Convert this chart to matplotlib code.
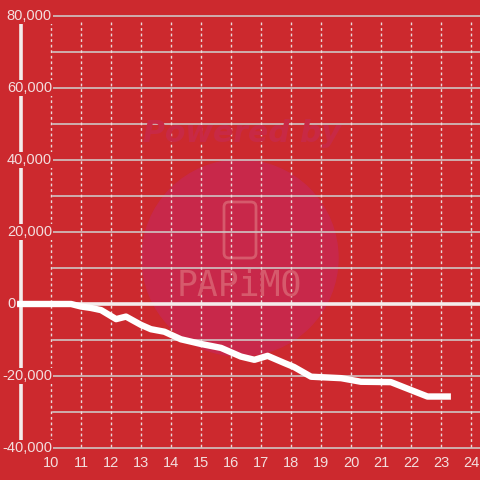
import matplotlib.pyplot as plt
from matplotlib.patches import Circle, FancyBboxPatch

# data
hours = [8.87, 10.67, 11.0, 11.33, 11.67, 12.17, 12.5, 13.0, 13.33, 13.78, 14.33,
         15.0, 15.67, 16.33, 16.78, 17.22, 17.78, 18.1, 18.67, 19.67, 20.33,
         21.33, 22.0, 22.55, 23.33]
balance = [0, 0, -700, -1100, -1700, -4200, -3500, -5800, -7000, -7700, -9800,
           -11100, -12200, -14600, -15500, -14400, -16400, -17500, -20200, -20600,
           -21600, -21700, -23900, -25700, -25700]
x_ticks = list(range(10, 25))
y_ticks = [80000, 60000, 40000, 20000, 0, -20000, -40000]
y_grid = list(range(-40000, 80001, 10000))

bg = '#cc292e'
txt = '#f3dede'

plt.rcParams['font.family'] = ['Liberation Sans', 'DejaVu Sans']
fig = plt.figure(figsize=(4.8, 4.8), dpi=100, facecolor=bg)
ax = fig.add_axes([0, 0, 1, 1])
ax.set_facecolor(bg)
ax.axis('off')

# pixel mapping: x px = 51 + 30*(x-10); y px = 304 - y*72/20000
px_x = lambda p: 10 + (p - 51) / 30
px_y = lambda p: (304 - p) * 20000 / 72
ax.set_xlim(px_x(0), px_x(480))
ax.set_ylim(px_y(480), px_y(0))

# watermark
ax.add_patch(Circle((240, 480 - 258), 98, transform=None, color='#c8284a', zorder=0))
fig.text(242 / 480, 1 - 134 / 480, 'Powered by', color='#c82945', fontsize=21.5,
         fontweight='bold', fontstyle='italic', ha='center', va='center', zorder=1,
         family='DejaVu Sans')
fig.text(239 / 480, 1 - 286 / 480, 'PAPiMO', color='#d65a6c', fontsize=25,
         ha='center', va='center', zorder=1, family='DejaVu Sans Mono')
ax.add_patch(FancyBboxPatch((226, 480 - 256), 28, 52, boxstyle='round,pad=2,rounding_size=5',
                            transform=None, fill=False, ec='#d65a6c', lw=2, zorder=1))

# grid
for v in y_grid:
    if v == 0:
        continue
    ax.plot([px_x(53), px_x(480)], [v, v], color='#cfc4c4', lw=1.2, zorder=2)
for t in x_ticks:
    ax.plot([t, t], [px_y(22), px_y(448)], color='#eadada', lw=1, ls=(0, (2, 2)), zorder=2)

# zero line and y axis line
ax.plot([px_x(17), px_x(480)], [0, 0], color='#f4ecec', lw=2.6, zorder=3,
        solid_capstyle='butt')
ax.plot([px_x(21), px_x(21)], [px_y(24), px_y(440)], color='#f4ecec', lw=2.6, zorder=3)

# tick labels
for v in y_ticks:
    if v == 0:
        ax.text(px_x(15.5), v, '0', color=txt, fontsize=10.5, ha='right', va='center', zorder=6)
        continue
    ax.text(px_x(52), v, f'{v:,}', color=txt, fontsize=10.5, ha='right', va='center',
            zorder=4, bbox=dict(boxstyle='square,pad=0.05', fc=bg, ec='none'))
for t in x_ticks:
    ax.text(t, px_y(463), str(t), color=txt, fontsize=10.5, ha='center', va='center', zorder=4)

# balance line
ax.plot(hours, balance, color='white', lw=4.6, solid_joinstyle='round',
        solid_capstyle='butt', zorder=5)

fig.savefig('out.png', dpi=100, facecolor=bg)
